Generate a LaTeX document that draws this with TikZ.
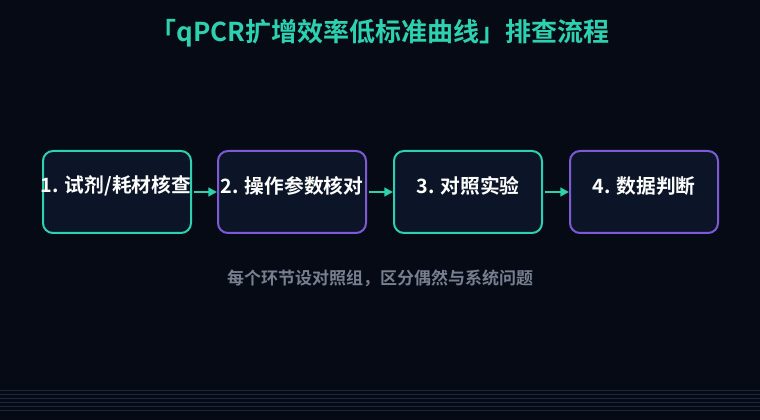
\documentclass[tikz,border=0pt]{standalone}
\usepackage{fontspec}
\setmainfont{Noto Sans CJK SC}
\newfontfamily\cjkb{Noto Sans CJK SC Bold}
\usetikzlibrary{arrows.meta}
\definecolor{bg}{HTML}{050A14}
\definecolor{boxfill}{HTML}{0B1527}
\definecolor{teal}{HTML}{2DD1B0}
\definecolor{purp}{HTML}{7E5AD6}
\definecolor{subgray}{HTML}{788090}
\definecolor{gridline}{HTML}{1A2A3C}
\tikzset{
  stepbox/.style={draw=#1, line width=1.5pt, fill=boxfill, rounded corners=7.5pt,
    minimum width=111pt, minimum height=61.5pt, inner sep=0pt},
  steptext/.style={text=white, font=\cjkb\fontsize{14.8pt}{18pt}\selectfont, inner sep=0pt},
  flowarrow/.style={draw=teal, line width=1.6pt, -{Triangle[length=6.5pt,width=6.5pt]}},
}
\begin{document}
\begin{tikzpicture}[x=0.75pt,y=-0.75pt]
\fill[bg] (0,0) rectangle (760,420);
\useasboundingbox (0,0) rectangle (760,420);
\foreach \yy in {390,394,398,402,406,410}
  \draw[gridline, line width=0.5pt] (0,\yy) -- (760,\yy);
\node[text=teal, font=\cjkb\fontsize{19.5pt}{23pt}\selectfont, inner sep=0pt] (title) at (380,33) {「qPCR扩增效率低标准曲线」排查流程};
\node[stepbox=teal] (b1) at (117,192) {};
\node[stepbox=purp] (b2) at (292,192) {};
\node[stepbox=teal] (b3) at (468,192) {};
\node[stepbox=purp] (b4) at (644,192) {};
\node[steptext] (t1) at (116,186) {1. 试剂/耗材核查};
\node[steptext] (t2) at (292,186) {2. 操作参数核对};
\node[steptext] (t3) at (468,186) {3. 对照实验};
\node[steptext] (t4) at (644,186) {4. 数据判断};
\draw[flowarrow] (b1.east) ++(2,0) coordinate (a1s) -- (b2.west);
\draw[flowarrow] (b2.east) ++(2,0) coordinate (a2s) -- (b3.west);
\draw[flowarrow] (b3.east) ++(2,0) coordinate (a3s) -- (b4.west);
\node[text=subgray, font=\cjkb\fontsize{12.75pt}{15pt}\selectfont, inner sep=0pt] (sub) at (380,278) {每个环节设对照组，区分偶然与系统问题};
\end{tikzpicture}
\end{document}
